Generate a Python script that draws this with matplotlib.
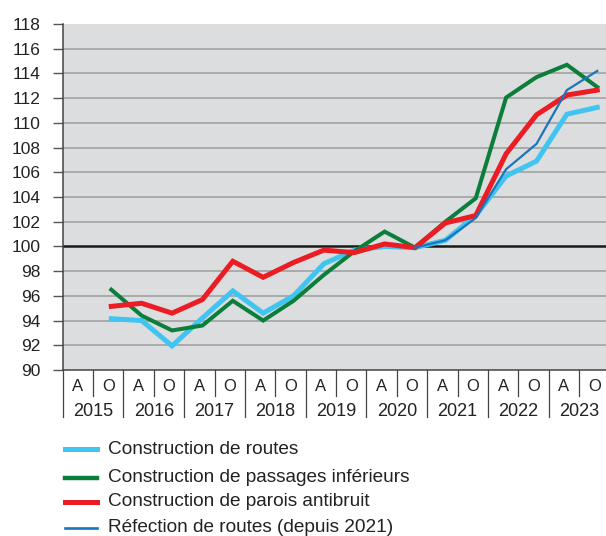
import matplotlib
matplotlib.use("Agg")
import matplotlib.pyplot as plt
from matplotlib.lines import Line2D
import matplotlib.transforms as mtransforms

plt.rcParams['font.family'] = ['Liberation Sans', 'DejaVu Sans']

years = [2015, 2016, 2017, 2018, 2019, 2020, 2021, 2022, 2023]
halves = ["A", "O"]
half_offset = {"A": 0.30, "O": 0.80}

# periods from 2015 O to 2023 O
periods = [(y, h) for y in years for h in halves][1:]
x_all = [y + half_offset[h] for y, h in periods]

construction_routes = [94.15, 94.0, 91.95, 94.2, 96.4, 94.6, 96.0, 98.6, 99.7,
                       100.0, 99.9, 100.5, 102.5, 105.7, 106.9, 110.7, 111.25]
passages_inferieurs = [96.5, 94.4, 93.2, 93.6, 95.6, 94.0, 95.6, 97.7, 99.6,
                       101.2, 99.9, 102.0, 103.9, 112.05, 113.7, 114.7, 112.9]
parois_antibruit = [95.15, 95.4, 94.6, 95.7, 98.8, 97.5, 98.7, 99.7, 99.5,
                    100.2, 99.9, 101.9, 102.5, 107.5, 110.65, 112.25, 112.65]
refection_routes = [99.9, 100.5, 102.3, 106.25, 108.3, 112.65, 114.2]  # from 2020 O
x_refection = x_all[-len(refection_routes):]

labels = ["Construction de routes",
          "Construction de passages inférieurs",
          "Construction de parois antibruit",
          "Réfection de routes (depuis 2021)"]
colors = ['#40C4F0', '#0B7E3B', '#EC1C24', '#1A75BC']
widths = [3.6, 2.9, 3.6, 1.6]

y_ticks = list(range(90, 119, 2))

W, H = 606, 536
fig = plt.figure(figsize=(W / 100, H / 100), dpi=100)
ax = fig.add_axes([62.7 / W, 1 - 370 / H, 546.7 / W, 346 / H])
ax.set_facecolor('#DCDDDF')
ax.set_xlim(2015, 2024)
ax.set_ylim(90, 118)

for yv in y_ticks:
    if yv == 100:
        ax.axhline(yv, color='#1a1a1a', lw=1.8, zorder=2)
    elif yv not in (90, 118):
        ax.axhline(yv, color='#9C9C9C', lw=1.1, zorder=1)

ax.plot(x_all, construction_routes, color=colors[0], lw=widths[0], zorder=3,
        solid_joinstyle='miter')
ax.plot(x_all, passages_inferieurs, color=colors[1], lw=widths[1], zorder=4,
        solid_joinstyle='miter')
ax.plot(x_all, parois_antibruit, color=colors[2], lw=widths[2], zorder=5,
        solid_joinstyle='miter')
ax.plot(x_refection, refection_routes, color=colors[3], lw=widths[3], zorder=6)

ax.set_yticks(y_ticks)
ax.set_yticklabels([str(v) for v in y_ticks], fontsize=12.5, color='#222222')
ax.tick_params(axis='y', length=7.2, width=1.0, color='#555555', pad=9)
ax.set_xticks([])
for s in ['top', 'right']:
    ax.spines[s].set_visible(False)
ax.spines['left'].set_color('#444444')
ax.spines['left'].set_linewidth(1.1)
ax.spines['bottom'].set_color('#444444')
ax.spines['bottom'].set_linewidth(1.1)

trans = mtransforms.blended_transform_factory(ax.transData, ax.transAxes)
px = 1 / 346.0
for y in years:
    # year separator
    ax.add_line(Line2D([y, y], [0, -47 * px], transform=trans, color='#444444',
                       lw=0.9, clip_on=False))
    # half separator
    ax.add_line(Line2D([y + 0.5, y + 0.5], [0, -26 * px], transform=trans,
                       color='#444444', lw=0.9, clip_on=False))
    ax.text(y + 0.25, -16.7 * px, "A", transform=trans, ha='center', va='center',
            fontsize=12, color='#222222')
    ax.text(y + 0.75, -16.7 * px, "O", transform=trans, ha='center', va='center',
            fontsize=12, color='#222222')
    ax.text(y + 0.5, -41.5 * px, str(y), transform=trans, ha='center', va='center',
            fontsize=13, color='#222222')

# legend
leg_y = [449.3, 477.7, 501.7, 527.7]
for lab, col, lw, yy in zip(labels, colors, [3.6, 3.2, 3.6, 1.9], leg_y):
    yf = 1 - yy / H
    fig.add_artist(Line2D([65 / W, 97 / W], [yf, yf], color=col, lw=lw,
                          transform=fig.transFigure))
    fig.text(108 / W, yf, lab, ha='left', va='center', fontsize=13.7,
             color='#222222')

fig.savefig("out.png", dpi=100)
